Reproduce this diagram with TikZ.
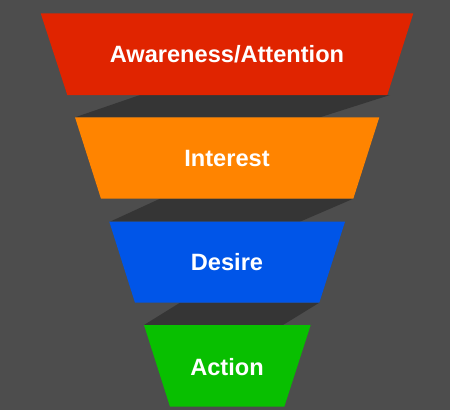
\documentclass[tikz,border=0pt]{standalone}
\usepackage{fontspec}
\setmainfont{Liberation Sans}
\definecolor{bg}{HTML}{4D4D4D}
\definecolor{shade}{HTML}{353535}
\definecolor{cred}{HTML}{E02400}
\definecolor{corange}{HTML}{FF8400}
\definecolor{cblue}{HTML}{0055E8}
\definecolor{cgreen}{HTML}{08BF00}
\begin{document}
\begin{tikzpicture}[x=1pt,y=-1pt,
  lbl/.style={text=white,font=\fontsize{23.6}{26}\selectfont\bfseries,inner sep=0pt},
  band/.style={fill=shade,draw=none}]
\fill[bg] (0,0) rectangle (450,410);
\useasboundingbox (0,0) rectangle (450,410);
% shadows
\path[band] (140,95) -- (390,95) -- (320,117.3) -- (75,117.3) -- cycle;
\path[band] (160,198.7) -- (353.3,198.7) -- (300,221.7) -- (110,221.7) -- cycle;
\path[band] (180,302.7) -- (319.3,302.7) -- (283,325) -- (144,325) -- cycle;
% funnel stages
\fill[cred] (40.7,13.3) -- (413.3,13.3) -- (387.3,95) -- (67.3,95) -- cycle;
\fill[corange] (75,117.3) -- (379.3,117.3) -- (353.3,198.7) -- (101,198.7) -- cycle;
\fill[cblue] (109.3,221.7) -- (345,221.7) -- (319.3,302.7) -- (135,302.7) -- cycle;
\fill[cgreen] (144,325) -- (310.7,325) -- (284.3,406.7) -- (170,406.7) -- cycle;
% labels
\node[lbl] (a) at (227,54) {Awareness/Attention};
\node[lbl] (i) at (227,158.5) {Interest};
\node[lbl] (d) at (227,262.5) {Desire};
\node[lbl] (c) at (227,367) {Action};
\end{tikzpicture}
\end{document}
